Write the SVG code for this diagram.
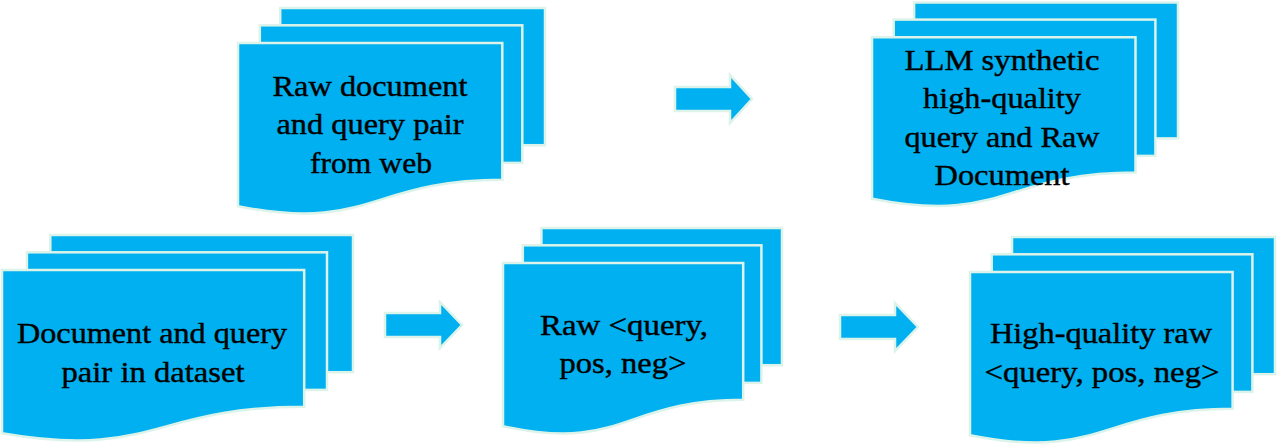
<svg xmlns="http://www.w3.org/2000/svg" width="1280" height="444" viewBox="0 0 1280 444">
<style>
.sh{fill:#00b0f0;stroke:#dcf3ea;stroke-width:2.5;stroke-linejoin:miter}
text{fill:#000;stroke:#000;stroke-width:0.4;text-anchor:middle}
</style>
<rect width="1280" height="444" fill="#fff"/>
<g id="node-raw-web" font-family="Liberation Serif, Times New Roman, serif" font-size="30">
<rect class="sh" x="280.2" y="8" width="264.8" height="137.2"/>
<rect class="sh" x="259.8" y="25.3" width="262.5" height="137.6"/>
<path class="sh" d="M238,43 H502.3 V179.8 C370.2,179.8 370.2,232.5 238,206.2 Z"/>
<text x="370" y="96" textLength="195" lengthAdjust="spacingAndGlyphs">Raw document</text>
<text x="370" y="134" textLength="187" lengthAdjust="spacingAndGlyphs">and query pair</text>
<text x="371" y="173" textLength="122" lengthAdjust="spacingAndGlyphs">from web</text>
</g>
<g id="node-dataset" font-family="Liberation Serif, Times New Roman, serif" font-size="30">
<rect class="sh" x="50.3" y="235" width="302.7" height="137.2"/>
<rect class="sh" x="26.9" y="252.3" width="300.1" height="137.6"/>
<path class="sh" d="M2,270 H304.2 V406.8 C153.1,406.8 153.1,459.5 2,433.2 Z"/>
<text x="152" y="343" textLength="270" lengthAdjust="spacingAndGlyphs">Document and query</text>
<text x="153" y="382" textLength="183" lengthAdjust="spacingAndGlyphs">pair in dataset</text>
</g>
<g id="node-llm" font-family="Liberation Serif, Times New Roman, serif" font-size="30">
<rect class="sh" x="914.1" y="2.5" width="263.9" height="135.9"/>
<rect class="sh" x="893.7" y="19.6" width="261.7" height="136.3"/>
<path class="sh" d="M872,37.2 H1135.5 V172.6 C1003.7,172.6 1003.7,224.9 872,198.7 Z"/>
<text x="1002" y="70" textLength="195" lengthAdjust="spacingAndGlyphs">LLM synthetic</text>
<text x="1002" y="108" textLength="158" lengthAdjust="spacingAndGlyphs">high-quality</text>
<text x="1002" y="147" textLength="195" lengthAdjust="spacingAndGlyphs">query and Raw</text>
<text x="1002" y="185" textLength="135" lengthAdjust="spacingAndGlyphs">Document</text>
</g>
<g id="node-raw-triplet" font-family="Liberation Serif, Times New Roman, serif" font-size="30">
<rect class="sh" x="541.4" y="228" width="240.6" height="137.2"/>
<rect class="sh" x="522.8" y="245.3" width="238.6" height="137.6"/>
<path class="sh" d="M503,263 H743.2 V399.8 C623.1,399.8 623.1,452.5 503,426.2 Z"/>
<text x="624" y="335" textLength="168" lengthAdjust="spacingAndGlyphs">Raw &lt;query,</text>
<text x="623" y="373" textLength="127" lengthAdjust="spacingAndGlyphs">pos, neg&gt;</text>
</g>
<g id="node-hq-triplet" font-family="Liberation Serif, Times New Roman, serif" font-size="30">
<rect class="sh" x="1012" y="237" width="263" height="137.2"/>
<rect class="sh" x="991.7" y="254.3" width="260.7" height="137.6"/>
<path class="sh" d="M970,272 H1232.6 V408.8 C1101.3,408.8 1101.3,461.5 970,435.2 Z"/>
<text x="1101" y="343" textLength="222" lengthAdjust="spacingAndGlyphs">High-quality raw</text>
<text x="1102" y="382" textLength="235" lengthAdjust="spacingAndGlyphs">&lt;query, pos, neg&gt;</text>
</g>
<g id="connectors">
<path class="sh" d="M675,87 H730 V75 L752,99 L730,123 V111 H675 Z"/>
<path class="sh" d="M385,313 H440 V302 L462,325 L440,348 V337 H385 Z"/>
<path class="sh" d="M840,315 H895 V303 L918,327 L895,351 V339 H840 Z"/>
</g>
</svg>
